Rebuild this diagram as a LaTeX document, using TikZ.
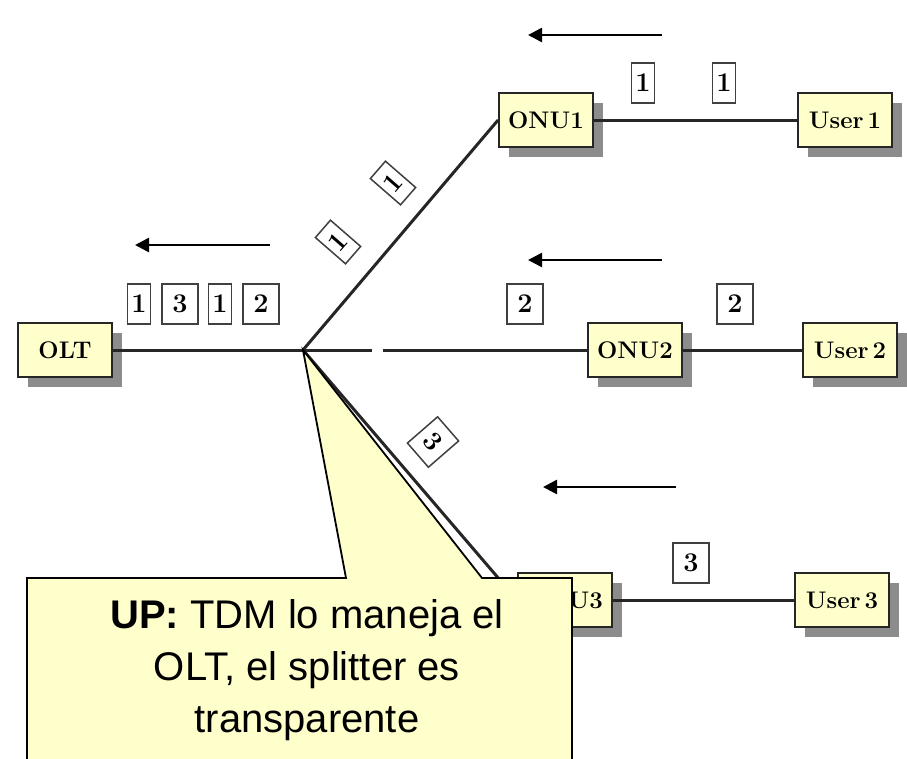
\documentclass[tikz,border=0pt]{standalone}
\usepackage{fontspec}
\newfontfamily\calloutfont{Liberation Sans}
\usetikzlibrary{positioning,arrows.meta,shadows}
\definecolor{paleyellow}{HTML}{FFFFCC}

\begin{document}
\begin{tikzpicture}[
  x=1pt, y=-1pt,
  unit/.style={draw=black!85, line width=1.8pt, fill=paleyellow,
    minimum width=94pt, minimum height=54pt, inner sep=2pt,
    font=\fontsize{24}{26}\selectfont\bfseries,
    drop shadow={shadow xshift=10pt, shadow yshift=-10pt,
      fill=black!45, opacity=1}},
  pkt/.style={draw=black!75, line width=1.5pt, fill=white,
    minimum width=23pt, minimum height=40pt, inner sep=1pt,
    font=\fontsize{27}{29}\selectfont\bfseries},
  pktw/.style={pkt, minimum width=36pt},
  fiber/.style={draw=black!85, line width=3pt},
  flow/.style={-{Triangle[length=14pt,width=14pt]}, line width=2.6pt}
]
% pixel grid of the 907 by 758 canvas, y pointing down
\path[use as bounding box] (0,0) rectangle (907,758);

% equipment boxes
\node[unit] (olt) at (65,350) {OLT};
\node[unit] (onu1) at (546,120) {ONU1};
\node[unit] (user1) at (845,120) {User\,1};
\node[unit] (onu2) at (635,350) {ONU2};
\node[unit] (user2) at (850,350) {User\,2};
\node[unit] (onu3) at (565,600) {ONU3};
\node[unit] (user3) at (842,600) {User\,3};

% splitter and the small break on the middle branch
\coordinate (split) at (303,350);
\coordinate (gapa) at (372,350);
\coordinate (gapb) at (383,350);

\draw[fiber] (olt) -- (split);
\draw[fiber] (split) -- (onu1.west);
\draw[fiber] (split) -- (gapa);
\draw[fiber] (gapb) -- (onu2);
\draw[fiber] (split) -- (onu3.west);
\draw[fiber] (onu1) -- (user1);
\draw[fiber] (onu2) -- (user2);
\draw[fiber] (onu3) -- (user3);

% time slots on each span
\node[pkt] (f1) at (139,304) {1};
\node[pktw] (f2) at (180,304) {3};
\node[pkt] (f3) at (220,304) {1};
\node[pktw] (f4) at (261,304) {2};
\node[pkt, rotate=49] (b1a) at (338,242) {1};
\node[pkt, rotate=49] (b1b) at (393,183) {1};
\node[pktw] (b2a) at (525,304) {2};
\node[pkt, minimum width=32pt, rotate=-49] (b3a) at (433,442) {3};
\node[pkt] (d1a) at (643,83) {1};
\node[pkt] (d1b) at (724,83) {1};
\node[pktw] (d2a) at (735,304) {2};
\node[pktw] (d3a) at (691,563) {3};

% upstream direction
\draw[flow] (662,35) -- (528,35);
\draw[flow] (270,245) -- (135,245);
\draw[flow] (662,260) -- (528,260);
\draw[flow] (676,487) -- (543,487);

% callout pointing at the splitter
\fill[paleyellow] (27,760) -- (27,578) -- (346,578) -- (split)
  -- (482,578) -- (572,578) -- (572,760) -- cycle;
\draw[line width=1.8pt] (27,760) -- (27,578) -- (346,578) -- (split)
  -- (482,578) -- (572,578) -- (572,760);
\node[font=\calloutfont\fontsize{40}{52}\selectfont, align=center,
  inner sep=0pt] (note) at (307,670)
  {\textbf{UP:} TDM lo maneja el\\OLT, el splitter es\\transparente};
\end{tikzpicture}
\end{document}
